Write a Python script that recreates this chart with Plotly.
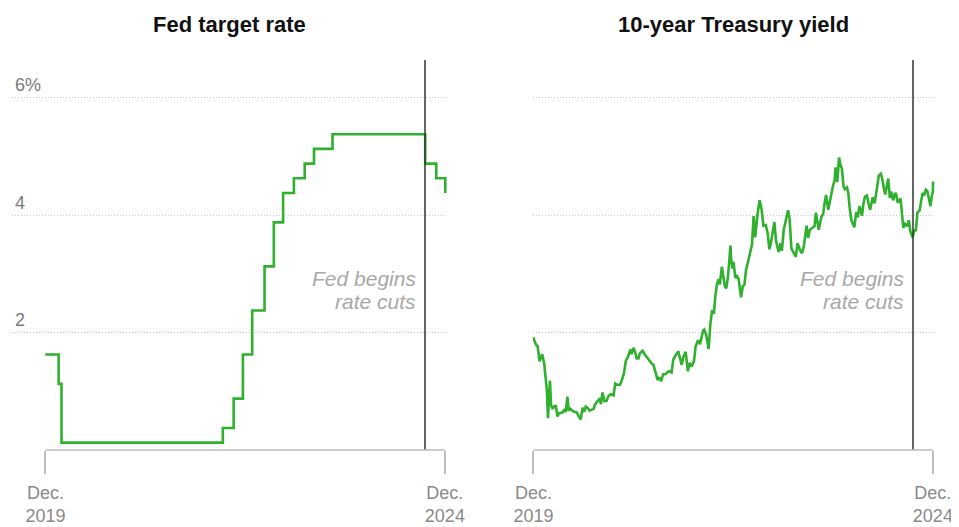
import pandas as pd
import plotly.graph_objects as go

# ---------------- data ----------------
fed_dates = ["2020-01-02", "2020-03-03", "2020-03-16", "2022-03-17", "2022-05-05",
             "2022-06-16", "2022-07-28", "2022-09-22", "2022-11-03", "2022-12-15",
             "2023-02-02", "2023-03-23", "2023-05-04", "2023-07-27", "2024-09-19",
             "2024-11-08", "2024-12-19"]
fed_rate = [1.625, 1.125, 0.125, 0.375, 0.875, 1.625, 2.375, 3.125, 3.875, 4.375,
            4.625, 4.875, 5.125, 5.375, 4.875, 4.625, 4.375]

ty_dates = [
    "2020-01-02", "2020-01-08", "2020-01-15", "2020-01-22", "2020-01-31", "2020-02-07",
    "2020-02-12", "2020-02-21", "2020-02-28", "2020-03-04", "2020-03-09", "2020-03-12",
    "2020-03-18", "2020-03-23", "2020-03-31", "2020-04-07", "2020-04-14", "2020-04-21",
    "2020-04-29", "2020-05-07", "2020-05-14", "2020-05-21", "2020-05-29", "2020-06-05",
    "2020-06-11", "2020-06-19", "2020-06-30", "2020-07-08", "2020-07-17", "2020-07-24",
    "2020-08-04", "2020-08-13", "2020-08-20", "2020-08-27", "2020-09-04", "2020-09-14",
    "2020-09-23", "2020-10-02", "2020-10-09", "2020-10-23", "2020-10-30", "2020-11-04",
    "2020-11-11", "2020-11-20", "2020-11-30", "2020-12-08", "2020-12-18", "2020-12-31",
    "2021-01-08", "2021-01-15", "2021-01-29", "2021-02-05", "2021-02-16", "2021-02-25",
    "2021-03-05", "2021-03-18", "2021-03-23", "2021-03-31", "2021-04-07", "2021-04-15",
    "2021-04-23", "2021-04-30", "2021-05-12", "2021-05-21", "2021-06-04", "2021-06-14",
    "2021-06-22", "2021-06-30", "2021-07-08", "2021-07-19", "2021-07-27", "2021-08-04",
    "2021-08-13", "2021-08-24", "2021-09-03", "2021-09-10", "2021-09-20", "2021-09-28",
    "2021-10-08", "2021-10-21", "2021-10-29", "2021-11-05", "2021-11-12", "2021-11-23",
    "2021-12-03", "2021-12-10", "2021-12-20", "2021-12-31", "2022-01-07", "2022-01-18",
    "2022-01-27", "2022-02-10", "2022-02-15", "2022-02-24", "2022-03-07", "2022-03-15",
    "2022-03-23", "2022-03-31", "2022-04-06", "2022-04-14", "2022-04-21", "2022-04-27",
    "2022-05-06", "2022-05-13", "2022-05-20", "2022-05-26", "2022-06-03", "2022-06-14",
    "2022-06-17", "2022-06-23", "2022-06-28", "2022-07-06", "2022-07-14", "2022-07-21",
    "2022-08-01", "2022-08-09", "2022-08-16", "2022-08-23", "2022-08-31", "2022-09-09",
    "2022-09-19", "2022-09-27", "2022-10-04", "2022-10-14", "2022-10-24", "2022-11-02",
    "2022-11-10", "2022-11-21", "2022-11-30", "2022-12-07", "2022-12-13", "2022-12-21",
    "2022-12-30", "2023-01-06", "2023-01-18", "2023-01-27", "2023-02-02", "2023-02-10",
    "2023-02-21", "2023-03-02", "2023-03-09", "2023-03-17", "2023-03-24", "2023-04-06",
    "2023-04-14", "2023-04-25", "2023-05-04", "2023-05-12", "2023-05-25", "2023-06-01",
    "2023-06-09", "2023-06-16", "2023-06-30", "2023-07-06", "2023-07-14", "2023-07-19",
    "2023-07-31", "2023-08-08", "2023-08-15", "2023-08-21", "2023-08-31", "2023-09-08",
    "2023-09-21", "2023-09-29", "2023-10-03", "2023-10-11", "2023-10-19", "2023-10-26",
    "2023-11-01", "2023-11-08", "2023-11-14", "2023-11-24", "2023-11-30", "2023-12-06",
    "2023-12-14", "2023-12-27", "2024-01-05", "2024-01-12", "2024-01-19", "2024-01-31",
    "2024-02-05", "2024-02-13", "2024-02-22", "2024-03-01", "2024-03-08", "2024-03-19",
    "2024-03-28", "2024-04-05", "2024-04-16", "2024-04-25", "2024-05-01", "2024-05-09",
    "2024-05-15", "2024-05-29", "2024-06-05", "2024-06-11", "2024-06-20", "2024-06-28",
    "2024-07-03", "2024-07-11", "2024-07-24", "2024-08-05", "2024-08-13", "2024-08-23",
    "2024-08-30", "2024-09-06", "2024-09-16", "2024-09-24", "2024-10-01", "2024-10-08",
    "2024-10-18", "2024-10-25", "2024-11-01", "2024-11-07", "2024-11-15", "2024-11-22",
    "2024-12-02", "2024-12-06", "2024-12-12", "2024-12-17", "2024-12-18",
]
ty_yield = [
    1.92, 1.87, 1.79, 1.77, 1.51, 1.58,
    1.63, 1.47, 1.13, 1.02, 0.54, 0.88,
    1.18, 0.76, 0.70, 0.75, 0.75, 0.57,
    0.63, 0.63, 0.64, 0.68, 0.65, 0.91,
    0.67, 0.70, 0.66, 0.65, 0.64, 0.59,
    0.52, 0.72, 0.65, 0.74, 0.72, 0.67,
    0.68, 0.70, 0.78, 0.84, 0.88, 0.78,
    0.98, 0.83, 0.84, 0.92, 0.95, 0.93,
    1.13, 1.11, 1.11, 1.17, 1.30, 1.52,
    1.57, 1.71, 1.63, 1.74, 1.68, 1.56,
    1.56, 1.65, 1.69, 1.63, 1.56, 1.50,
    1.47, 1.45, 1.32, 1.19, 1.24, 1.17,
    1.29, 1.29, 1.33, 1.34, 1.32, 1.54,
    1.61, 1.68, 1.55, 1.45, 1.58, 1.67,
    1.34, 1.48, 1.42, 1.52, 1.76, 1.87,
    1.80, 2.03, 2.05, 1.96, 1.72, 2.15,
    2.38, 2.32, 2.61, 2.83, 2.91, 2.82,
    3.12, 2.93, 2.78, 2.75, 2.96, 3.48,
    3.25, 3.09, 3.20, 2.93, 2.96, 2.91,
    2.60, 2.79, 2.81, 3.05, 3.19, 3.33,
    3.49, 3.98, 3.62, 4.00, 4.25, 4.10,
    3.82, 3.83, 3.68, 3.42, 3.50, 3.68,
    3.88, 3.57, 3.37, 3.52, 3.39, 3.74,
    3.95, 4.08, 3.93, 3.43, 3.38, 3.29,
    3.52, 3.40, 3.35, 3.46, 3.82, 3.61,
    3.75, 3.77, 3.81, 4.04, 3.83, 3.75,
    3.97, 4.02, 4.22, 4.34, 4.09, 4.26,
    4.49, 4.59, 4.81, 4.56, 4.98, 4.84,
    4.79, 4.49, 4.44, 4.47, 4.37, 4.12,
    3.91, 3.79, 4.05, 3.96, 4.15, 3.99,
    4.16, 4.31, 4.33, 4.19, 4.09, 4.30,
    4.20, 4.39, 4.67, 4.70, 4.63, 4.46,
    4.35, 4.62, 4.29, 4.40, 4.25, 4.36,
    4.36, 4.21, 4.28, 3.78, 3.85, 3.81,
    3.91, 3.72, 3.62, 3.74, 3.74, 4.04,
    4.08, 4.24, 4.38, 4.33, 4.43, 4.41,
    4.19, 4.15, 4.32, 4.40, 4.57,
]

panel_titles = ["Fed target rate", "10-year Treasury yield"]
y_tickvals = [2, 4, 6]
y_ticktext = ["2", "4", "6%"]
x_tickvals = ["2020-01-03", "2024-12-17"]
x_ticktext = ["Dec.<br>2019", "Dec.<br>2024"]
cut_date = "2024-09-18"
note_lines = ["Fed begins", "rate cuts"]

# ---------------- layout geometry ----------------
OFF = 8                      # browser default body margin
W, H = 959 - OFF, 527 - OFF  # figure size so the page fills the window
GREEN = "#2fb12f"
FONT = "Liberation Sans, Arial, sans-serif"

px_per_day = 0.2207
cut_ts = pd.Timestamp(cut_date)


def fx(px):   # reference-window x pixel -> paper fraction
    return (px - OFF) / W


def fy(py):   # reference-window y pixel -> paper fraction
    return 1 - (py - OFF) / H


def px_to_date(px, anchor_px):
    return cut_ts + pd.Timedelta(days=(px - anchor_px) / px_per_day)


left_dom = (12, 447)
right_dom = (533, 935)
left_cut_px, right_cut_px = 425, 913
y_bottom_px, y_top_px = 450, 60
px_per_unit = 58.75
y_top_val = (y_bottom_px - y_top_px) / px_per_unit

x1_range = [px_to_date(left_dom[0], left_cut_px), px_to_date(left_dom[1], left_cut_px)]
x2_range = [px_to_date(right_dom[0], right_cut_px), px_to_date(right_dom[1], right_cut_px)]

fig = go.Figure()
fig.add_trace(go.Scatter(x=pd.to_datetime(fed_dates), y=fed_rate, mode="lines",
                         line=dict(color=GREEN, width=2.6, shape="hv"),
                         xaxis="x", yaxis="y", hoverinfo="skip", showlegend=False))
fig.add_trace(go.Scatter(x=pd.to_datetime(ty_dates), y=ty_yield, mode="lines",
                         line=dict(color=GREEN, width=2.6),
                         xaxis="x2", yaxis="y2", hoverinfo="skip", showlegend=False))

ydom = [fy(y_bottom_px), fy(y_top_px)]
xaxis_common = dict(type="date", tickmode="array", tickvals=x_tickvals, ticktext=x_ticktext,
                    showgrid=False, zeroline=False, showline=False, ticks="outside",
                    ticklen=23, tickwidth=1.5, tickcolor="#bdbdbd", automargin=False,
                    ticklabelstandoff=3,
                    tickfont=dict(family=FONT, size=18, color="#8a8a8a"), fixedrange=True)
yaxis_common = dict(range=[0, y_top_val], tickmode="array", tickvals=y_tickvals,
                    showgrid=True, gridcolor="#c4c4c4", griddash="1px,2px", gridwidth=1,
                    zeroline=False, showline=False, ticks="", domain=ydom, automargin=False,
                    fixedrange=True)

fig.update_layout(
    width=W, height=H, autosize=False,
    margin=dict(l=0, r=0, t=0, b=0, pad=0, autoexpand=False),
    paper_bgcolor="white", plot_bgcolor="white",
    xaxis=dict(xaxis_common, domain=[fx(left_dom[0]), fx(left_dom[1])], range=x1_range, anchor="y"),
    xaxis2=dict(xaxis_common, domain=[fx(right_dom[0]), fx(right_dom[1])], range=x2_range, anchor="y2"),
    yaxis=dict(yaxis_common, anchor="x", ticktext=y_ticktext, showticklabels=True,
               ticklabelposition="inside top",
               tickfont=dict(family=FONT, size=18, color="#7a7a7a")),
    yaxis2=dict(yaxis_common, anchor="x2", showticklabels=False),
)

shapes = []
for xr, yr in (("x", "y"), ("x2", "y2")):
    shapes.append(dict(type="line", xref=xr, yref=yr, x0=cut_date, x1=cut_date,
                       y0=0, y1=y_top_val, line=dict(color="#333333", width=1.5)))
    shapes.append(dict(type="line", xref=xr, yref="paper", x0=x_tickvals[0], x1=x_tickvals[1],
                       y0=ydom[0], y1=ydom[0], line=dict(color="#bdbdbd", width=1.5)))
fig.update_layout(shapes=shapes)

annotations = []
title_centers = [229, 733]
for t, cx in zip(panel_titles, title_centers):
    annotations.append(dict(text="<b>" + t + "</b>", xref="paper", yref="paper",
                            x=fx(cx), y=fy(25), xanchor="center", yanchor="middle",
                            showarrow=False, font=dict(family=FONT, size=22, color="#111111")))
note_y_px = [278, 301]
for xr, yr in (("x", "y"), ("x2", "y2")):
    for line_txt, ypx in zip(note_lines, note_y_px):
        annotations.append(dict(text="<i>" + line_txt + "</i>", xref=xr, yref=yr,
                                x=cut_ts - pd.Timedelta(days=7 / px_per_day),
                                y=(y_bottom_px - ypx) / px_per_unit,
                                xanchor="right", yanchor="middle", align="right", showarrow=False,
                                font=dict(family=FONT, size=21, color="#a8a8a8")))
fig.update_layout(annotations=annotations)

fig.write_html("out.html")
